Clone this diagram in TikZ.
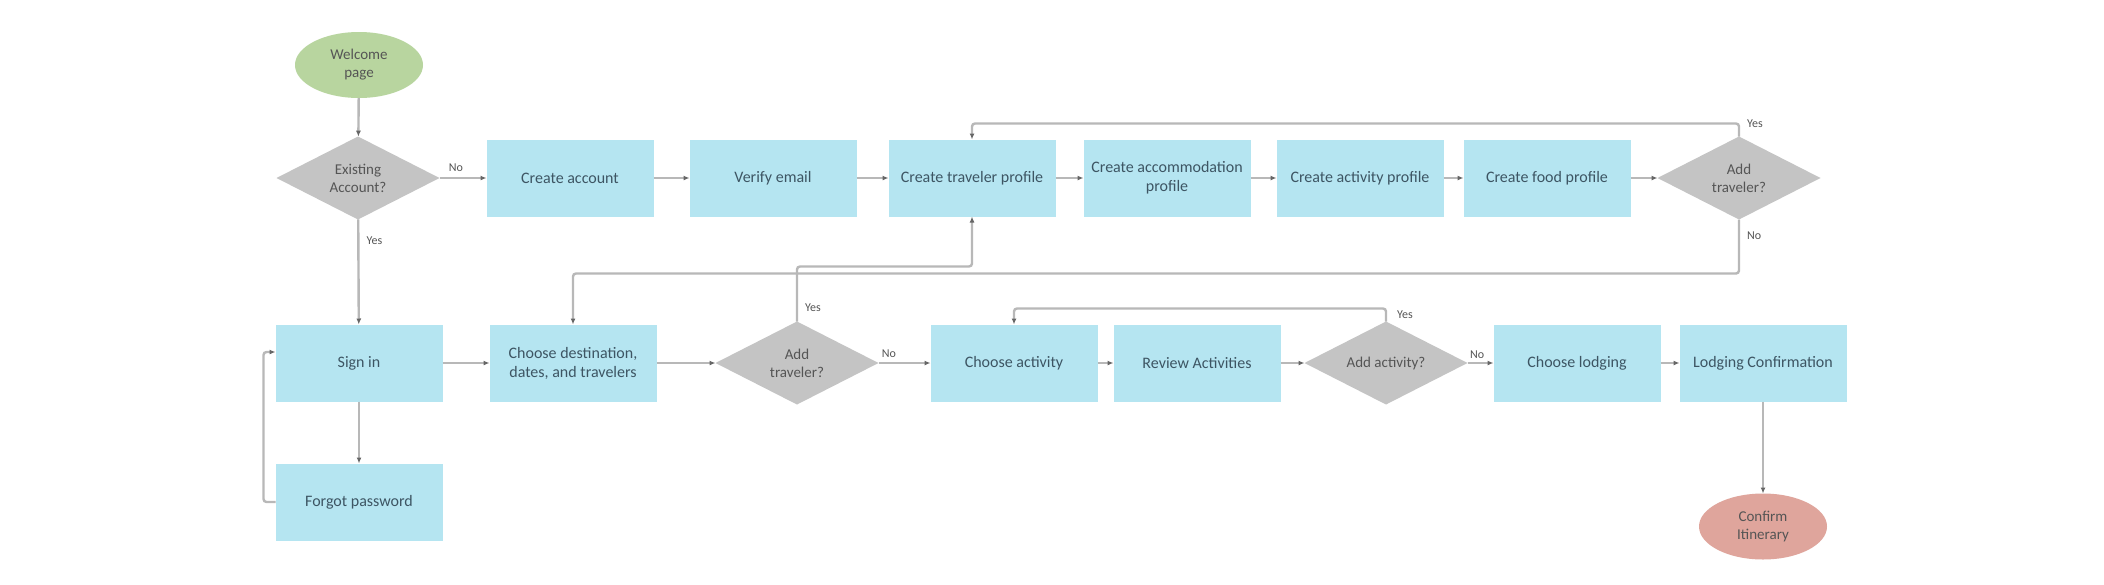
\documentclass[tikz,border=0pt]{standalone}
\usepackage{fontspec}
\setmainfont{Carlito}
\usetikzlibrary{arrows.meta,positioning,shapes.geometric}
\definecolor{Sky}{HTML}{B5E5F1}
\definecolor{Stone}{HTML}{C4C4C4}
\definecolor{Sage}{HTML}{B8D59F}
\definecolor{Salmon}{HTML}{DFA59C}
\definecolor{Wire}{HTML}{B8B8B8}
\definecolor{Ink}{HTML}{3D5563}
\definecolor{Muted}{HTML}{555555}
\tikzset{
 box/.style={fill=Sky,text=Ink,align=center,font=\fontsize{16}{19}\selectfont,minimum width=167pt,minimum height=77pt,inner sep=2pt,outer sep=0pt},
 decision/.style={diamond,aspect=2,fill=Stone,text=Muted,align=center,font=\fontsize{15}{18}\selectfont,minimum width=163pt,minimum height=83pt,inner sep=0pt,outer sep=0pt},
 terminal/.style={ellipse,text=Muted,align=center,font=\fontsize{15}{18}\selectfont,minimum width=128pt,minimum height=66pt,inner sep=0pt,outer sep=0pt},
 arr/.style={-{Latex[length=6pt,width=5pt,color=Muted!90]},line width=2.4pt,draw=Wire,rounded corners=3pt},
 lbl/.style={font=\fontsize{12}{14}\selectfont,text=Muted,inner sep=1pt}
}
\begin{document}
\begin{tikzpicture}[x=1pt,y=1pt]
\fill[white] (0,0) rectangle (2104,-584);
% top row: account and profiles
\node[terminal,fill=Sage] (welcome) at (359,-65) {Welcome\\page};
\node[decision] (exist) at (358,-178) {Existing\\Account?};
\node[box,right=47pt of exist] (create) {Create account};
\node[box,right=36pt of create] (verify) {Verify email};
\node[box,right=32pt of verify] (trav) {Create traveler profile};
\node[box,right=28pt of trav] (accom) {Create accommodation\\profile};
\node[box,right=26pt of accom] (actprof) {Create activity profile};
\node[box,right=20pt of actprof] (food) {Create food profile};
\node[decision,right=27pt of food] (addtrav) {Add\\traveler?};
% bottom row: trip planning
\node[box] (signin) at (359,-363) {Sign in};
\node[box,below=62pt of signin] (forgot) {Forgot password};
\node[box,right=47pt of signin] (dest) {Choose destination,\\dates, and travelers};
\node[decision,right=59pt of dest] (addtrav2) {Add\\traveler?};
\node[box,right=52pt of addtrav2] (chooseact) {Choose activity};
\node[box,right=16pt of chooseact] (review) {Review Activities};
\node[decision,right=24pt of review] (addact) {Add activity?};
\node[box,right=26pt of addact] (lodging) {Choose lodging};
\node[box,right=19pt of lodging] (lodgconf) {Lodging Confirmation};
\node[terminal,fill=Salmon,below=92pt of lodgconf] (confirm) {Confirm\\Itinerary};
% connectors
\draw[arr] (welcome)--(exist);
\draw[arr] (exist)--node[lbl,pos=.35,above=4pt]{No}(create);
\draw[arr] (exist)--node[lbl,pos=.2,right=6pt]{Yes}(signin);
\draw[arr] (create)--(verify);\draw[arr] (verify)--(trav);\draw[arr] (trav)--(accom);
\draw[arr] (accom)--(actprof);\draw[arr] (actprof)--(food);\draw[arr] (food)--(addtrav);
\draw[arr] (addtrav.north)--++(0,13) node[lbl,anchor=west,xshift=6pt]{Yes} -| (trav.north);
\draw[arr] (addtrav.south)--node[lbl,pos=.3,right=6pt]{No}++(0,-54) -| (dest.north);
\draw[arr] (signin)--(forgot);
\draw[arr] (forgot.west)--++(-12,0) |- ([yshift=11pt]signin.west);
\draw[arr] (signin)--(dest);\draw[arr] (dest)--(addtrav2);
\draw[arr] (addtrav2.north)--node[lbl,pos=.25,right=6pt]{Yes}++(0,55) -| (trav.south);
\draw[arr] (addtrav2)--node[lbl,pos=.2,above=3pt]{No}(chooseact);
\draw[arr] (chooseact)--(review);\draw[arr] (review)--(addact);
\draw[arr] (addact.north)--node[lbl,pos=.5,right=9pt]{Yes}++(0,13) -| (chooseact.north);
\draw[arr] (addact)--node[lbl,pos=.37,above=2pt]{No}(lodging);
\draw[arr] (lodging)--(lodgconf);\draw[arr] (lodgconf)--(confirm);
\end{tikzpicture}
\end{document}
